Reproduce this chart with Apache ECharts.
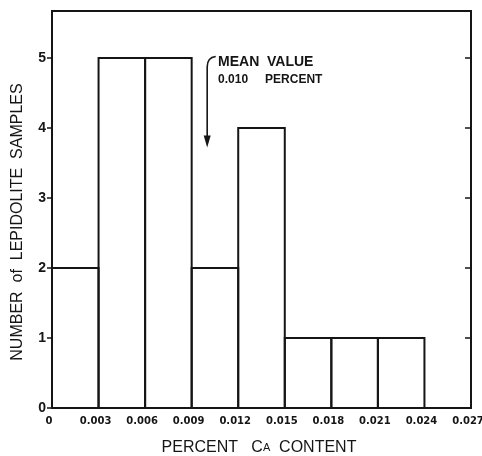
<!DOCTYPE html>
<html>
<head>
<meta charset="utf-8">
<script src="https://cdn.jsdelivr.net/npm/echarts@6/dist/echarts.min.js"></script>
<style>
  html, body { margin: 0; padding: 0; background: #fff; }
  #chart { width: 482px; height: 456px; }
</style>
</head>
<body>
<div id="chart"></div>
<script>
// Histogram of Ca content in lepidolite samples
const binStarts = [0, 0.003, 0.006, 0.009, 0.012, 0.015, 0.018, 0.021];
const binWidth = 0.003;
const sampleCounts = [2, 5, 5, 2, 4, 1, 1, 1];
const xTicks = [0, 0.003, 0.006, 0.009, 0.012, 0.015, 0.018, 0.021, 0.024, 0.027];
const yTicks = [0, 1, 2, 3, 4, 5];
const meanValue = 0.010;
const meanTitle = 'MEAN  VALUE';
const meanNumber = '0.010';
const meanUnit = 'PERCENT';

const INK = '#151515';
const SANS = '"Liberation Sans", Arial, sans-serif';
const DEJAVU = '"DejaVu Sans", sans-serif';

const chart = echarts.init(document.getElementById('chart'));

const bins = binStarts.map((s, i) => [s, sampleCounts[i]]);

chart.setOption({
  animation: false,
  backgroundColor: '#fff',
  grid: {
    left: 52, right: 11, top: 11, bottom: 48,
    outerBoundsMode: 'none',
    containLabel: false,
    show: true, borderColor: INK, borderWidth: 2, backgroundColor: 'transparent'
  },
  xAxis: {
    type: 'value',
    min: 0, max: 0.027, interval: 0.003,
    splitLine: { show: false },
    axisLine: { show: true, lineStyle: { color: INK, width: 2 } },
    axisTick: { show: false },
    axisLabel: {
      color: INK, fontFamily: DEJAVU, fontSize: 10, fontWeight: 'bold', margin: 8,
      padding: [0, 6, 0, 0],
      customValues: xTicks,
      formatter: v => (v === 0 ? '0' : v.toFixed(3))
    }
  },
  yAxis: [{
    type: 'value',
    min: 0, max: 5.67,
    position: 'left',
    splitLine: { show: false },
    axisLine: { show: true, lineStyle: { color: INK, width: 2 } },
    axisTick: { show: true, customValues: yTicks, length: 5, lineStyle: { color: INK, width: 1.5 } },
    axisLabel: {
      color: INK, fontFamily: SANS, fontSize: 14, fontWeight: 'bold', margin: 6,
      customValues: yTicks
    }
  }, {
    type: 'value',
    min: 0, max: 5.67,
    position: 'right',
    splitLine: { show: false },
    axisLine: { show: true, lineStyle: { color: INK, width: 2 } },
    axisTick: { show: true, inside: true, customValues: yTicks.slice(1), length: 6, lineStyle: { color: INK, width: 1.5 } },
    axisLabel: { show: false }
  }],
  series: [{
    type: 'custom',
    data: bins,
    renderItem: function (params, api) {
      const start = api.value(0);
      const count = api.value(1);
      const p0 = api.coord([start, 0]);
      const p1 = api.coord([start + binWidth, count]);
      return {
        type: 'rect',
        shape: { x: p0[0], y: p1[1], width: p1[0] - p0[0], height: p0[1] - p1[1] },
        style: { fill: 'none', stroke: INK, lineWidth: 2 }
      };
    }
  }, {
    // arrow and caption marking the mean value
    type: 'custom',
    data: [[meanValue]],
    silent: true,
    renderItem: function (params, api) {
      const m = api.value(0);
      const top = api.coord([m, 4.9]);
      const tip = api.coord([m, 3.72]);
      const hookEnd = api.coord([m + 0.00055, 5.02]);
      const textPos = api.coord([m + 0.0007, 4.94]);
      const x = top[0];
      return {
        type: 'group',
        children: [{
          type: 'path',
          shape: {
            pathData: 'M' + x + ' ' + (tip[1] - 10) + ' L' + x + ' ' + (top[1] + 2) +
              ' Q' + x + ' ' + (hookEnd[1] + 1) + ' ' + hookEnd[0] + ' ' + hookEnd[1]
          },
          style: { fill: 'none', stroke: INK, lineWidth: 1.6 }
        }, {
          type: 'polygon',
          shape: { points: [[x - 3.5, tip[1] - 12], [x + 3.5, tip[1] - 12], [x, tip[1]]] },
          style: { fill: INK }
        }, {
          type: 'text',
          x: textPos[0], y: textPos[1],
          style: {
            text: meanTitle, fill: INK, font: 'bold 14px ' + SANS,
            textAlign: 'left', textVerticalAlign: 'middle'
          }
        }, {
          type: 'text',
          x: textPos[0], y: textPos[1] + 18,
          style: {
            text: meanNumber, fill: INK, font: 'bold 12px ' + SANS,
            textAlign: 'left', textVerticalAlign: 'middle'
          }
        }, {
          type: 'text',
          x: textPos[0] + 47, y: textPos[1] + 18,
          style: {
            text: meanUnit, fill: INK, font: 'bold 12px ' + SANS,
            textAlign: 'left', textVerticalAlign: 'middle'
          }
        }]
      };
    }
  }],
  graphic: [{
    type: 'text',
    x: 18, y: 222,
    rotation: Math.PI / 2,
    style: {
      text: 'NUMBER  of  LEPIDOLITE  SAMPLES', fill: INK, font: '16px ' + SANS,
      textAlign: 'center', textVerticalAlign: 'middle'
    }
  }, {
    type: 'text',
    x: 259, y: 448,
    style: {
      text: '{a|PERCENT   C}{b|A}{a|  CONTENT}',
      textAlign: 'center', textVerticalAlign: 'middle',
      rich: {
        a: { font: '16px ' + SANS, fill: INK },
        b: { font: '11px ' + SANS, fill: INK }
      }
    }
  }]
});
</script>
</body>
</html>
